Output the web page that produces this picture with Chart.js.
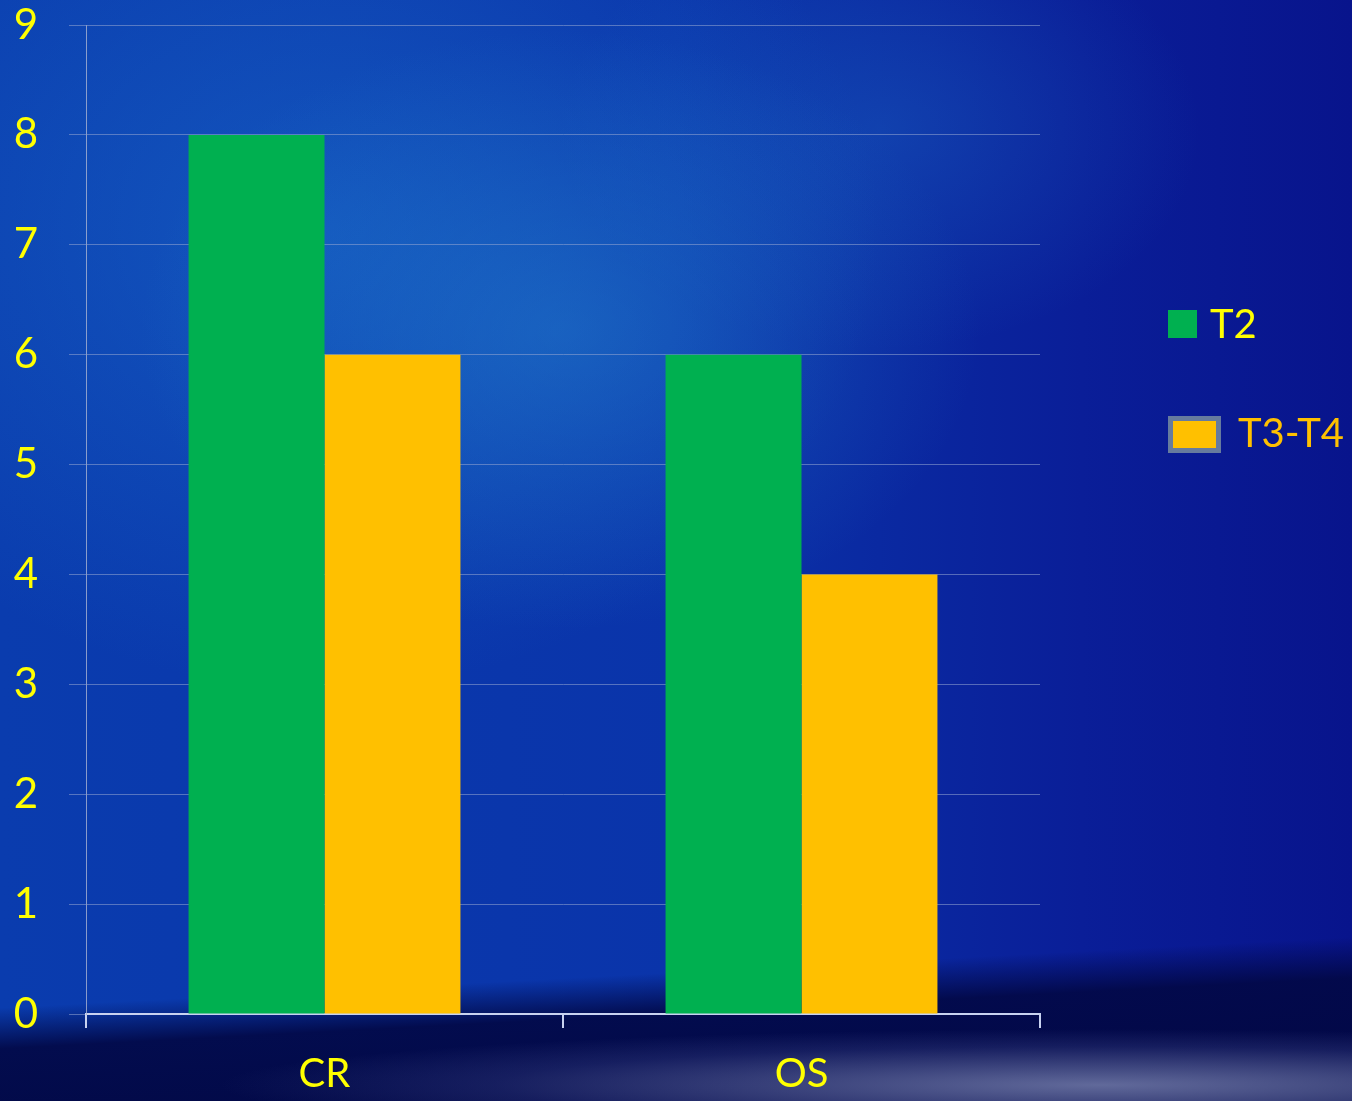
<!DOCTYPE html>
<html>
<head>
<meta charset="utf-8">
<script src="https://cdn.jsdelivr.net/npm/chart.js@4/dist/chart.umd.min.js"></script>
<style>
    html, body { margin: 0; padding: 0; }
    body {
        width: 1352px; height: 1101px; overflow: hidden; position: relative;
        font-family: Lato, "Open Sans", sans-serif;
        background:
            radial-gradient(ellipse 1100px 70px at 1100px 1085px, rgba(160,170,210,0.6), rgba(80,90,160,0.25) 55%, rgba(0,0,0,0) 80%),
            linear-gradient(177deg, rgba(0,0,0,0) 0%, rgba(0,0,0,0) 86%, rgba(2,8,70,0.92) 89.5%, #020845 100%),
            radial-gradient(ellipse 420px 300px at 560px 330px, rgba(40,140,210,0.4), rgba(0,0,0,0) 100%),
            radial-gradient(ellipse 560px 460px at 320px 230px, rgba(30,120,210,0.45), rgba(0,0,0,0) 100%),
            radial-gradient(ellipse 320px 220px at 880px 130px, rgba(30,110,200,0.35), rgba(0,0,0,0) 100%),
            linear-gradient(90deg, #0a3cae 0%, #0a34aa 50%, #0a1e98 80%, #08148c 100%);
    }
    #wrap { position: absolute; left: 0; top: 0; width: 1352px; height: 1101px; }
    .legend { position: absolute; left: 1168px; font-size: 40px; line-height: 40px; }
    .legend .sw { position: absolute; box-sizing: border-box; }
    .legend span.lbl { position: absolute; white-space: nowrap; }
</style>
</head>
<body>
<div id="wrap"><canvas id="chart" width="1352" height="1101"></canvas></div>
<div class="legend" id="legend"></div>
<script>
const categories = ['CR', 'OS'];
const seriesNames = ['T2', 'T3-T4'];
const t2Values = [8, 6];
const t34Values = [6, 4];
const yTicks = [0, 1, 2, 3, 4, 5, 6, 7, 8, 9];

const GREEN = '#00b050';
const GOLD = '#ffc000';
const YELLOW = '#ffff00';

const ctx = document.getElementById('chart').getContext('2d');
new Chart(ctx, {
    type: 'bar',
    data: {
        labels: categories,
        datasets: [
            { label: seriesNames[0], data: t2Values, backgroundColor: GREEN, borderWidth: 0 },
            { label: seriesNames[1], data: t34Values, backgroundColor: GOLD, borderWidth: 0 }
        ]
    },
    options: {
        responsive: false,
        animation: false,
        layout: { padding: { top: 25, right: 312, left: 0, bottom: 0 } },
        plugins: { legend: { display: false }, tooltip: { enabled: false } },
        datasets: { bar: { categoryPercentage: 0.57, barPercentage: 1.0 } },
        scales: {
            x: {
                grid: { drawOnChartArea: false, drawTicks: true, tickLength: 14, color: '#c8d2f0', lineWidth: 2, offset: true },
                border: { color: '#c8d2f0', width: 2 },
                ticks: { color: YELLOW, font: { family: 'Lato', size: 40 }, padding: 22 },
                afterFit: (scale) => { scale.height = 87; }
            },
            y: {
                min: 0, max: 9,
                afterBuildTicks: (scale) => { scale.ticks = yTicks.map(v => ({ value: v })); },
                grid: { color: 'rgba(150,165,210,0.55)', lineWidth: 1, tickLength: 17 },
                border: { color: 'rgba(170,180,210,0.8)', width: 1 },
                ticks: { color: YELLOW, font: { family: 'Lato', size: 42 }, padding: 31 },
                afterFit: (scale) => {
                    scale.width = 86;
                    scale.paddingTop = 0;
                    scale.paddingBottom = 0;
                }
            }
        }
    }
});

// legend
const legendEl = document.getElementById('legend');
legendEl.innerHTML = `
    <div class="sw" style="left:0;top:310px;width:29px;height:28px;background:${GREEN};"></div>
    <span class="lbl" style="left:42px;top:303px;color:${YELLOW};">${seriesNames[0]}</span>
    <div class="sw" style="left:0;top:416px;width:53px;height:37px;background:${GOLD};border:5px solid rgba(85,115,175,0.9);"></div>
    <span class="lbl" style="left:70px;top:412px;color:${GOLD};">${seriesNames[1]}</span>
`;
</script>
</body>
</html>
